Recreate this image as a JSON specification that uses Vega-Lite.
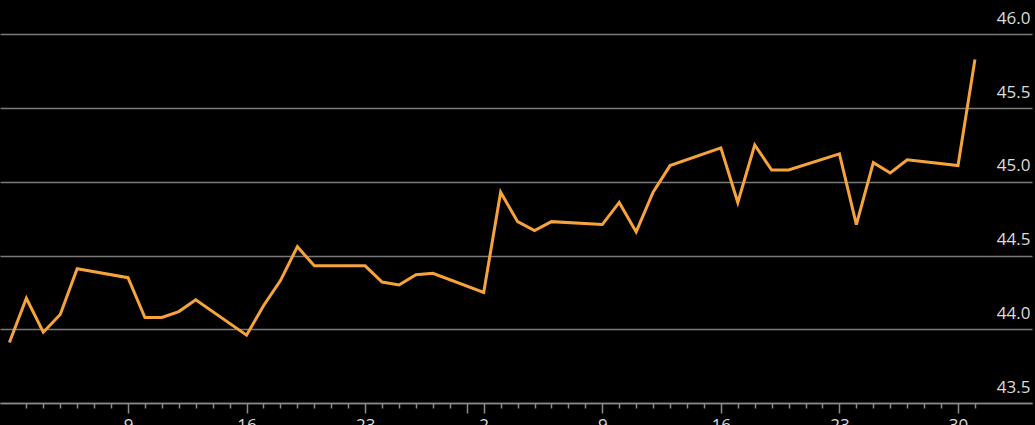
{
  "$schema": "https://vega.github.io/schema/vega-lite/v6.json",
  "width": 1032,
  "height": 403,
  "autosize": {"type": "none"},
  "padding": {"top": 0, "left": 0, "right": 3, "bottom": 22},
  "background": "#000000",
  "config": {
    "view": {"stroke": null},
    "font": "Open Sans"
  },
  "data": {
    "values": [
      {"date": "2015-02-02", "value": 43.91},
      {"date": "2015-02-03", "value": 44.21},
      {"date": "2015-02-04", "value": 43.98},
      {"date": "2015-02-05", "value": 44.10},
      {"date": "2015-02-06", "value": 44.41},
      {"date": "2015-02-09", "value": 44.35},
      {"date": "2015-02-10", "value": 44.08},
      {"date": "2015-02-11", "value": 44.08},
      {"date": "2015-02-12", "value": 44.12},
      {"date": "2015-02-13", "value": 44.20},
      {"date": "2015-02-16", "value": 43.96},
      {"date": "2015-02-17", "value": 44.16},
      {"date": "2015-02-18", "value": 44.33},
      {"date": "2015-02-19", "value": 44.56},
      {"date": "2015-02-20", "value": 44.43},
      {"date": "2015-02-23", "value": 44.43},
      {"date": "2015-02-24", "value": 44.32},
      {"date": "2015-02-25", "value": 44.30},
      {"date": "2015-02-26", "value": 44.37},
      {"date": "2015-02-27", "value": 44.38},
      {"date": "2015-03-02", "value": 44.25},
      {"date": "2015-03-03", "value": 44.93},
      {"date": "2015-03-04", "value": 44.73},
      {"date": "2015-03-05", "value": 44.67},
      {"date": "2015-03-06", "value": 44.73},
      {"date": "2015-03-09", "value": 44.71},
      {"date": "2015-03-10", "value": 44.86},
      {"date": "2015-03-11", "value": 44.66},
      {"date": "2015-03-12", "value": 44.93},
      {"date": "2015-03-13", "value": 45.11},
      {"date": "2015-03-16", "value": 45.23},
      {"date": "2015-03-17", "value": 44.86},
      {"date": "2015-03-18", "value": 45.25},
      {"date": "2015-03-19", "value": 45.08},
      {"date": "2015-03-20", "value": 45.08},
      {"date": "2015-03-23", "value": 45.19},
      {"date": "2015-03-24", "value": 44.71},
      {"date": "2015-03-25", "value": 45.13},
      {"date": "2015-03-26", "value": 45.06},
      {"date": "2015-03-27", "value": 45.15},
      {"date": "2015-03-30", "value": 45.11},
      {"date": "2015-03-31", "value": 45.83}
    ]
  },
  "mark": {"type": "line", "color": "#f6a33b", "strokeWidth": 3, "strokeJoin": "miter"},
  "encoding": {
    "x": {
      "field": "date",
      "type": "temporal",
      "title": null,
      "scale": {
        "type": "utc",
        "domain": [
          {"year": 2015, "month": 2, "date": 1, "hours": 10, "minutes": 40, "utc": true},
          {"year": 2015, "month": 4, "date": 3, "hours": 8, "minutes": 50, "utc": true}
        ]
      },
      "axis": {
        "tickCount": {"interval": "day", "step": 1},
        "labelExpr": "(utcday(datum.value) == 1 && datum.value > utc(2015,1,2,12)) ? utcFormat(datum.value, '%-d') : ''",
        "labelOverlap": false,
        "labelFontSize": 17,
        "labelColor": "#dcdcdc",
        "labelPadding": 4,
        "domainColor": "#8a8a8a",
        "domainWidth": 1.5,
        "tickColor": "#8a8a8a",
        "tickWidth": 1.5,
        "tickOpacity": {"condition": {"test": "datum.value < utc(2015,1,2,12) || datum.value > utc(2015,2,31,12)", "value": 0}, "value": 1},
        "tickSize": {"condition": {"test": "utcday(datum.value) == 1 || utcdate(datum.value) == 1", "value": 10}, "value": 5},
        "grid": false
      }
    },
    "y": {
      "field": "value",
      "type": "quantitative",
      "title": null,
      "scale": {"domain": [43.5, 46.233], "nice": false, "zero": false},
      "axis": {
        "orient": "right",
        "values": [43.5, 44.0, 44.5, 45.0, 45.5, 46.0],
        "format": ".1f",
        "domain": false,
        "ticks": false,
        "labelAlign": "right",
        "labelBaseline": "alphabetic",
        "labelPadding": -2,
        "labelOffset": -11,
        "labelFontSize": 17,
        "labelColor": "#dcdcdc",
        "labelBound": false,
        "labelFlush": false,
        "grid": true,
        "gridColor": "#7a7a7a",
        "gridWidth": 1.5
      }
    }
  }
}
